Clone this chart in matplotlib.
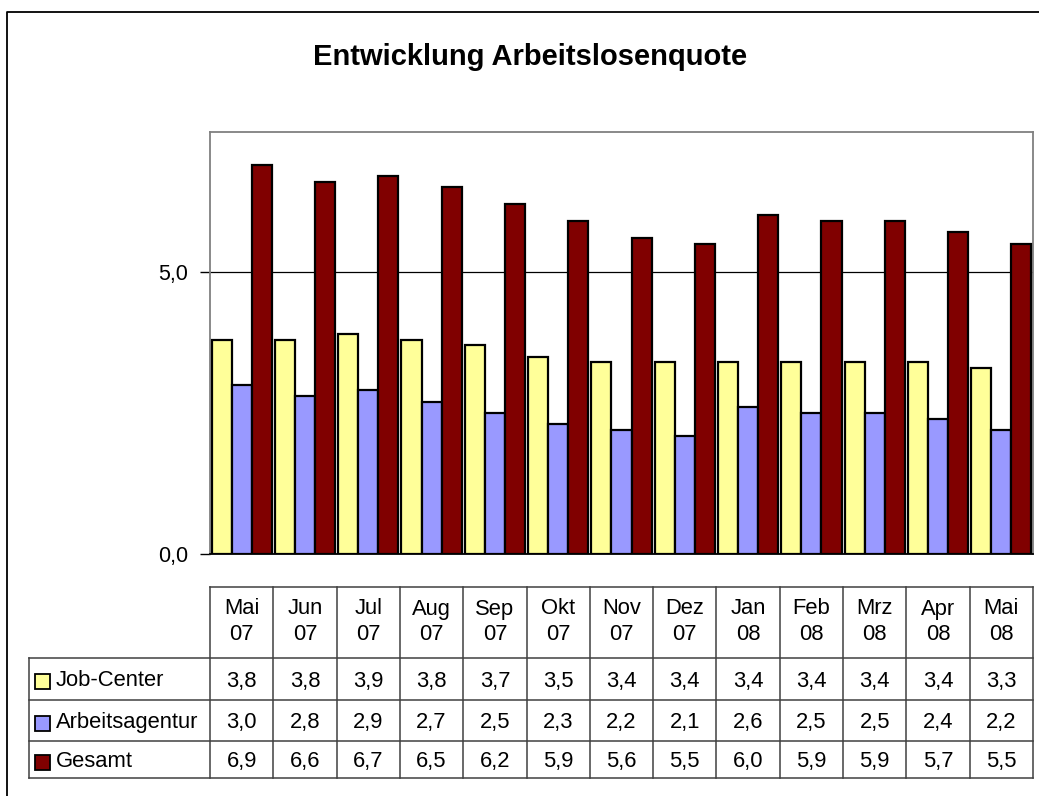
import matplotlib
matplotlib.use("Agg")
import matplotlib.pyplot as plt
from matplotlib.patches import Rectangle
from matplotlib.transforms import blended_transform_factory

plt.rcParams['font.family'] = ['Liberation Sans', 'DejaVu Sans']

title = "Entwicklung Arbeitslosenquote"
months = ["Mai\n07", "Jun\n07", "Jul\n07", "Aug\n07", "Sep\n07", "Okt\n07", "Nov\n07",
          "Dez\n07", "Jan\n08", "Feb\n08", "Mrz\n08", "Apr\n08", "Mai\n08"]
series_names = ["Job-Center", "Arbeitsagentur", "Gesamt"]
job_center = [3.8, 3.8, 3.9, 3.8, 3.7, 3.5, 3.4, 3.4, 3.4, 3.4, 3.4, 3.4, 3.3]
arbeitsagentur = [3.0, 2.8, 2.9, 2.7, 2.5, 2.3, 2.2, 2.1, 2.6, 2.5, 2.5, 2.4, 2.2]
gesamt = [6.9, 6.6, 6.7, 6.5, 6.2, 5.9, 5.6, 5.5, 6.0, 5.9, 5.9, 5.7, 5.5]
colors = ["#FFFF99", "#9999FF", "#800000"]
yticks = [0.0, 5.0]
ytick_labels = ["0,0", "5,0"]

W, H = 1039, 796
fig = plt.figure(figsize=(W / 100, H / 100), dpi=100)

# overlay axes in pixel coordinates
ov = fig.add_axes([0, 0, 1, 1])
ov.set_xlim(0, W)
ov.set_ylim(H, 0)
ov.axis('off')

# chart border
ov.plot([7, 7, W + 5], [H + 5, 12, 12], color='black', lw=1.3, solid_capstyle='butt')

# plot area
pl, pr, pt, pb = 210, 1033, 132, 554
ax = fig.add_axes([pl / W, 1 - pb / H, (pr - pl) / W, (pb - pt) / H])
n = len(months)
xs = list(range(n))
bw = 0.317
data = [job_center, arbeitsagentur, gesamt]
for k, (vals, c) in enumerate(zip(data, colors)):
    ax.bar([x + (k - 1) * bw for x in xs], vals, width=bw, color=c,
           edgecolor='black', linewidth=1.6, zorder=3)
ax.set_xlim(-0.5, n - 0.5)
ax.set_ylim(0, 7.48)
ax.set_yticks(yticks)
ax.set_yticklabels(ytick_labels, fontsize=15.5)
ax.set_xticks([])
ax.axhline(5.0, color='black', lw=0.9, zorder=1)
ax.tick_params(axis='y', length=7, width=1, pad=9, color='black')
for s in ['top', 'right', 'left']:
    ax.spines[s].set_color('#808080')
    ax.spines[s].set_linewidth(1.3)
ax.spines['bottom'].set_color('black')
ax.spines['bottom'].set_linewidth(1.3)

# title
ov.text(530, 57, title, ha='center', va='center', fontsize=21, fontweight='bold')

# table
tr = blended_transform_factory(ax.transData, ov.transData)
lc = '#404040'
lw = 1.1
fs = 15.8
hdr_top = 587
row_edges = [658, 700, 741, 778]
label_left = 29
# vertical lines at category boundaries
for i in range(n + 1):
    ov.plot([i - 0.5, i - 0.5], [hdr_top, row_edges[-1]], color=lc, lw=lw, transform=tr)
# header top line
ov.plot([-0.5, n - 0.5], [hdr_top, hdr_top], color=lc, lw=lw, transform=tr)
# row lines
x_right_px = ax.transData.transform((n - 0.5, 0))[0]
for y in row_edges:
    ov.plot([label_left, x_right_px], [y, y], color=lc, lw=lw)
ov.plot([label_left, label_left], [row_edges[0], row_edges[-1]], color=lc, lw=lw)

# header texts
for i, m in enumerate(months):
    top, bot = m.split("\n")
    ov.text(i, 609, top, ha='center', va='center', fontsize=fs, transform=tr)
    ov.text(i, 635, bot, ha='center', va='center', fontsize=fs, transform=tr)

# rows
for r, (name, vals, c) in enumerate(zip(series_names, data, colors)):
    yc = (row_edges[r] + row_edges[r + 1]) / 2 + 2
    ov.add_patch(Rectangle((35, yc - 7), 15, 15, facecolor=c, edgecolor='black', lw=1.3))
    ov.text(56, yc, name, ha='left', va='center', fontsize=fs)
    for i, v in enumerate(vals):
        ov.text(i, yc, f"{v:.1f}".replace('.', ','), ha='center', va='center',
                fontsize=fs, transform=tr)

fig.savefig("out.png", dpi=100)
